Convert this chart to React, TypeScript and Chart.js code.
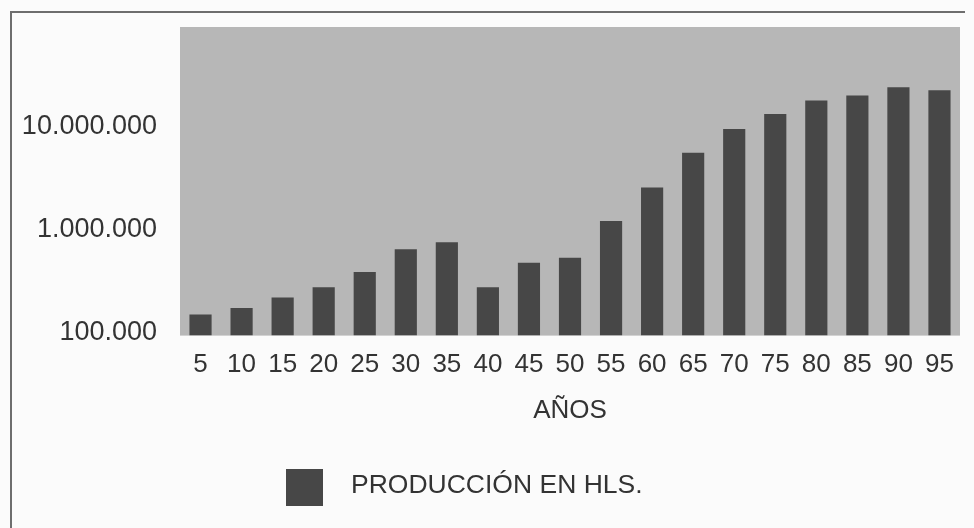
import React, { useEffect, useRef } from 'react';
import { Chart, registerables } from 'chart.js';

Chart.register(...registerables);

const categories = ['5', '10', '15', '20', '25', '30', '35', '40', '45', '50', '55', '60', '65', '70', '75', '80', '85', '90', '95'];
const production = [160000, 185000, 235000, 295000, 415000, 690000, 810000, 295000, 510000, 570000, 1300000, 2750000, 6000000, 10200000, 14300000, 19300000, 21600000, 25900000, 24300000];
const yTickValues = [100000, 1000000, 10000000];
const seriesLabel = 'PRODUCCIÓN EN HLS.';
const xTitle = 'AÑOS';

const FONT = "'Liberation Sans', Arial, Helvetica, sans-serif";
const TEXT = '#333333';
const BAR = '#474747';
const PLOT_BG = '#b7b7b7';

function fmt(v: number): string {
  return Math.round(v).toString().replace(/\B(?=(\d{3})+(?!\d))/g, '.');
}

const plotBg = {
  id: 'plotBg',
  beforeDraw(chart: any) {
    const { ctx, chartArea: a } = chart;
    ctx.save();
    ctx.fillStyle = PLOT_BG;
    ctx.fillRect(a.left, a.top, a.right - a.left, a.bottom - a.top);
    ctx.restore();
  },
};

const customLegend = {
  id: 'customLegend',
  afterDraw(chart: any) {
    const ds = chart.data.datasets[0];
    const { ctx } = chart;
    ctx.save();
    ctx.fillStyle = ds.backgroundColor;
    ctx.fillRect(286, 469, 37, 37);
    ctx.fillStyle = TEXT;
    ctx.font = `26.5px ${FONT}`;
    ctx.textBaseline = 'middle';
    ctx.textAlign = 'left';
    ctx.fillText(ds.label, 351, 486);
    ctx.restore();
  },
};

export default function App() {
  const ref = useRef<HTMLCanvasElement | null>(null);

  useEffect(() => {
    document.body.style.margin = '0';
    const canvas = ref.current;
    if (!canvas) return;
    const chart = new Chart(canvas, {
      type: 'bar',
      data: {
        labels: categories,
        datasets: [
          {
            label: seriesLabel,
            data: production,
            backgroundColor: BAR,
            borderWidth: 0,
            barPercentage: 0.54,
            categoryPercentage: 1,
          },
        ],
      },
      options: {
        responsive: false,
        animation: false,
        layout: { padding: { left: 0, top: 27, right: 14, bottom: 102 } },
        plugins: {
          legend: { display: false },
          tooltip: { enabled: false },
        },
        scales: {
          x: {
            grid: { display: false, drawTicks: false },
            border: { display: false },
            afterFit(scale: any) {
              scale.paddingLeft = 0;
              scale.paddingRight = 0;
            },
            ticks: {
              color: TEXT,
              font: { family: FONT, size: 26 },
              padding: 14,
              maxRotation: 0,
              autoSkip: false,
            },
            title: {
              display: true,
              text: xTitle,
              color: TEXT,
              font: { family: FONT, size: 26 },
              padding: { top: 0, bottom: 0 },
            },
          },
          y: {
            type: 'logarithmic',
            min: 100000,
            max: 100000000,
            grid: { display: false, drawTicks: false },
            border: { display: false },
            afterBuildTicks(scale: any) {
              scale.ticks = yTickValues.map((v) => ({ value: v }));
            },
            afterFit(scale: any) {
              scale.width = 180;
              scale.paddingTop = 0;
              scale.paddingBottom = 0;
            },
            ticks: {
              color: TEXT,
              font: { family: FONT, size: 27 },
              padding: 23,
              labelOffset: -3,
              callback: (v: any) => fmt(Number(v)),
            },
          },
        },
      },
      plugins: [plotBg, customLegend],
    } as any);
    return () => chart.destroy();
  }, []);

  return (
    <div style={{ position: 'relative', width: 974, height: 528, overflow: 'hidden', background: '#fbfbfb' }}>
      <div
        style={{
          position: 'absolute',
          left: 10,
          top: 11,
          width: 953,
          height: 700,
          borderTop: '2px solid #6e6e6e',
          borderLeft: '2px solid #6e6e6e',
        }}
      />
      <canvas ref={ref} width={974} height={528} style={{ position: 'absolute', left: 0, top: 0, display: 'block' }} />
    </div>
  );
}
